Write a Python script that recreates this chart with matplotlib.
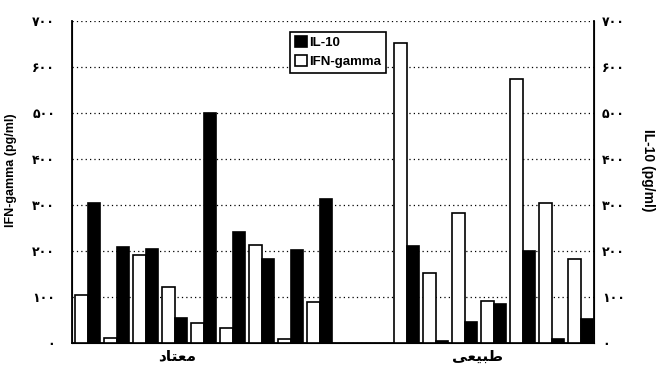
import numpy as np
import matplotlib.pyplot as plt

# groepen (Perzisch, presentatievormen in visuele volgorde omdat matplotlib geen Arabisch schrift vormt)
groep_namen = ['\uFEA9\uFE8E\uFE98\uFECC\uFEE3',      # معتاد
               '\uFBFD\uFECC\uFEF4\uFE92\uFEC3']      # طبیعی

# waarden (pg/ml)
ifn_groep1 = [104, 11, 191, 122, 43, 32, 213, 8, 90]
il10_groep1 = [304, 209, 204, 54, 500, 241, 183, 202, 313]
ifn_groep2 = [652, 152, 283, 91, 574, 304, 183]
il10_groep2 = [211, 5, 46, 85, 200, 10, 52]

y_ticks = [0, 100, 200, 300, 400, 500, 600, 700]
y_labels = ['\u06F0', '\u06F1\u06F0\u06F0', '\u06F2\u06F0\u06F0', '\u06F3\u06F0\u06F0',
            '\u06F4\u06F0\u06F0', '\u06F5\u06F0\u06F0', '\u06F6\u06F0\u06F0', '\u06F7\u06F0\u06F0']

# posities: 9 paren, 2 lege plaatsen, 7 paren
n1 = len(ifn_groep1)
n2 = len(ifn_groep2)
x1 = np.arange(n1) + 0.55
x2 = np.arange(n2) + n1 + 2 + 0.55
x = np.concatenate((x1, x2))
ifn = np.array(ifn_groep1 + ifn_groep2)
il10 = np.array(il10_groep1 + il10_groep2)
w = 0.43

fig = plt.figure(figsize=(6.64, 3.65), dpi=100)
ax = fig.add_axes([0.108, 0.060, 0.786, 0.882])
ax2 = ax.twinx()

ax.bar(x - w/2, ifn, width=w, color='white', edgecolor='black', linewidth=1.2, zorder=3, label='IFN-gamma')
ax2.bar(x + w/2, il10, width=w, color='black', edgecolor='black', linewidth=1.2, zorder=3, label='IL-10')

for a in (ax, ax2):
    a.set_ylim(0, 700)
    a.set_xlim(0, n1 + 2 + n2)
    a.set_yticks(y_ticks)
    a.spines['top'].set_visible(False)
    a.tick_params(axis='y', length=0)
ax.yaxis.grid(True, linestyle=(0, (1, 2.5)), color='black', linewidth=0.9)
ax.set_axisbelow(True)
ax.spines['left'].set_linewidth(1.3)
ax2.spines['right'].set_linewidth(1.3)
ax.spines['bottom'].set_linewidth(1.3)

ax.set_yticklabels(y_labels, fontsize=9, fontweight='bold', family='DejaVu Sans')
ax2.set_yticklabels(y_labels, fontsize=9, fontweight='bold', family='DejaVu Sans')
ax.tick_params(axis='y', pad=12)
ax2.tick_params(axis='y', pad=6)

ax.set_xticks([x1.mean() - 0.93, x2.mean() - 0.55])
ax.set_xticklabels(groep_namen, fontsize=11, fontweight='bold', family='DejaVu Sans')
ax.tick_params(axis='x', length=0, pad=4)

ax.set_ylabel('IFN-gamma (pg/ml)', fontsize=9, fontweight='bold', family='Liberation Sans')
ax.yaxis.set_label_coords(-0.105, 0.537)
ax2.set_ylabel('IL-10 (pg/ml)', fontsize=10, fontweight='bold', family='Liberation Sans',
               rotation=270, va='center')
ax2.yaxis.set_label_coords(1.105, 0.537)

h1, l1 = ax.get_legend_handles_labels()
h2, l2 = ax2.get_legend_handles_labels()
leg = ax2.legend(h2 + h1, l2 + l1, loc='upper left', bbox_to_anchor=(0.419, 0.967),
                 fancybox=False, edgecolor='black', framealpha=1,
                 prop={'family': 'Liberation Sans', 'size': 9.5, 'weight': 'bold'},
                 handlelength=0.9, handleheight=0.9, handletextpad=0.2,
                 borderpad=0.35, labelspacing=0.45, borderaxespad=0)
leg.get_frame().set_linewidth(1.2)

plt.savefig('out.png', dpi=100)
